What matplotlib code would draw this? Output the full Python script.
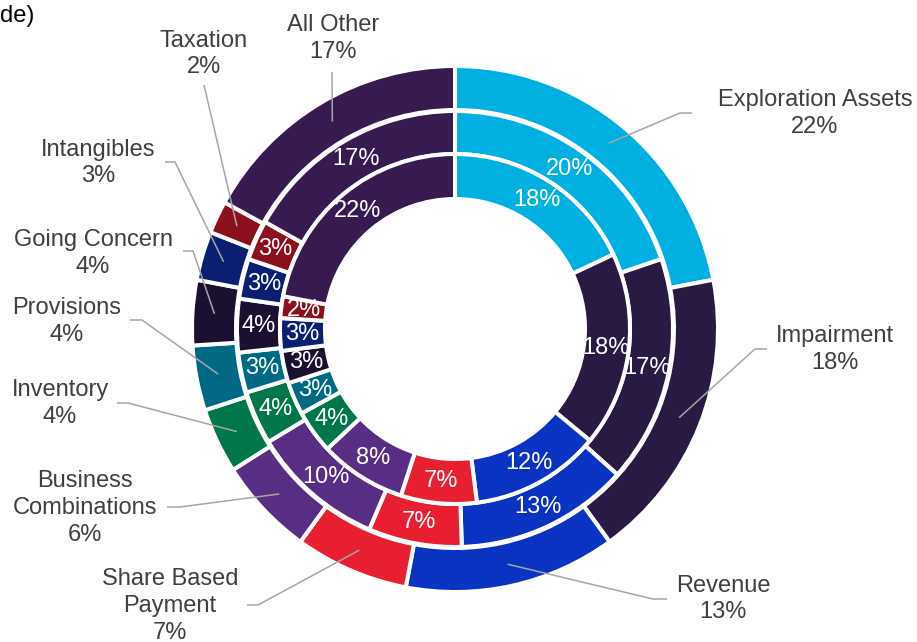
import numpy as np
import matplotlib
matplotlib.use("Agg")
import matplotlib.pyplot as plt

plt.rcParams['font.family'] = ['Liberation Sans', 'DejaVu Sans']

# Data (clockwise from 12 o'clock)
categories = ["Exploration Assets", "Impairment", "Revenue", "Share Based\nPayment",
              "Business\nCombinations", "Inventory", "Provisions", "Going Concern",
              "Intangibles", "Taxation", "All Other"]
outer_vals = [22, 18, 13, 7, 6, 4, 4, 4, 3, 2, 17]
middle_vals = [20, 17, 13, 7, 10, 4, 3, 4, 3, 3, 17]
inner_vals = [18, 18, 12, 7, 8, 4, 3, 3, 3, 2, 22]
colors = ["#00B0E0", "#281A42", "#0A33C2", "#E81F30", "#582D84", "#00774A",
          "#006A84", "#1B1030", "#0B1F72", "#8C0F1E", "#371B50"]

W, H = 917, 642
fig = plt.figure(figsize=(W / 100, H / 100), dpi=100)
ax = fig.add_axes([0, 0, 1, 1])

cx, cy = 455, H - 329
center = (cx, cy)
edge = dict(edgecolor="white", linewidth=2.9)

rings = [(outer_vals, 263, 44), (middle_vals, 218, 43), (inner_vals, 175, 45)]
ring_wedges = []
for vals, r, w in rings:
    wedges, _ = ax.pie(vals, radius=r, center=center, startangle=90, counterclock=False,
                       colors=colors, wedgeprops=dict(width=w, **edge), frame=True)
    ring_wedges.append(wedges)

# in-ring labels for middle and inner rings
for (vals, r, w), wedges in list(zip(rings, ring_wedges))[1:]:
    rm = r - w / 2
    for v, wd in zip(vals, wedges):
        a = np.deg2rad((wd.theta1 + wd.theta2) / 2)
        ax.text(cx + rm * np.cos(a), cy + rm * np.sin(a), f"{v}%", color="white",
                fontsize=17, ha="center", va="center")

# outer labels: text centre, elbow and end of leader line (pixels from top-left)
label_pos = [(815, 113.5), (835, 349.5), (723, 599), (170, 606), (85, 508), (60, 403.5),
             (67, 321.5), (93, 253.5), (98, 163), (204, 54), (333, 38.5)]
leader = [((680, 113), 692), ((755, 349), 767), ((653, 599), 667), ((258, 605), 247),
          ((180, 507), 167), ((128, 403), 117), ((142, 320), 130), ((193, 251), 183),
          ((175, 162), 165), ((204, 85), 204), ((332, 72), 332)]

for name, v, wd, (tx, ty), ((ex, ey), endx) in zip(categories, outer_vals, ring_wedges[0],
                                                   label_pos, leader):
    a = np.deg2rad((wd.theta1 + wd.theta2) / 2)
    ax0, ay0 = cx + 241 * np.cos(a), cy + 241 * np.sin(a)
    ax.plot([ax0, ex, endx], [ay0, H - ey, H - ey], color="#A6A6A6", lw=1.1,
            solid_capstyle="butt")
    ax.text(tx, H - ty, f"{name}\n{v}%", color="#404040", fontsize=17,
            ha="center", va="center", linespacing=1.28)

ax.text(0, H - 22, "de)", color="#000000", fontsize=17, ha="left", va="baseline")

ax.set_xlim(0, W)
ax.set_ylim(0, H)
ax.set_aspect("equal")
ax.axis("off")

fig.savefig("out.png", dpi=100)
